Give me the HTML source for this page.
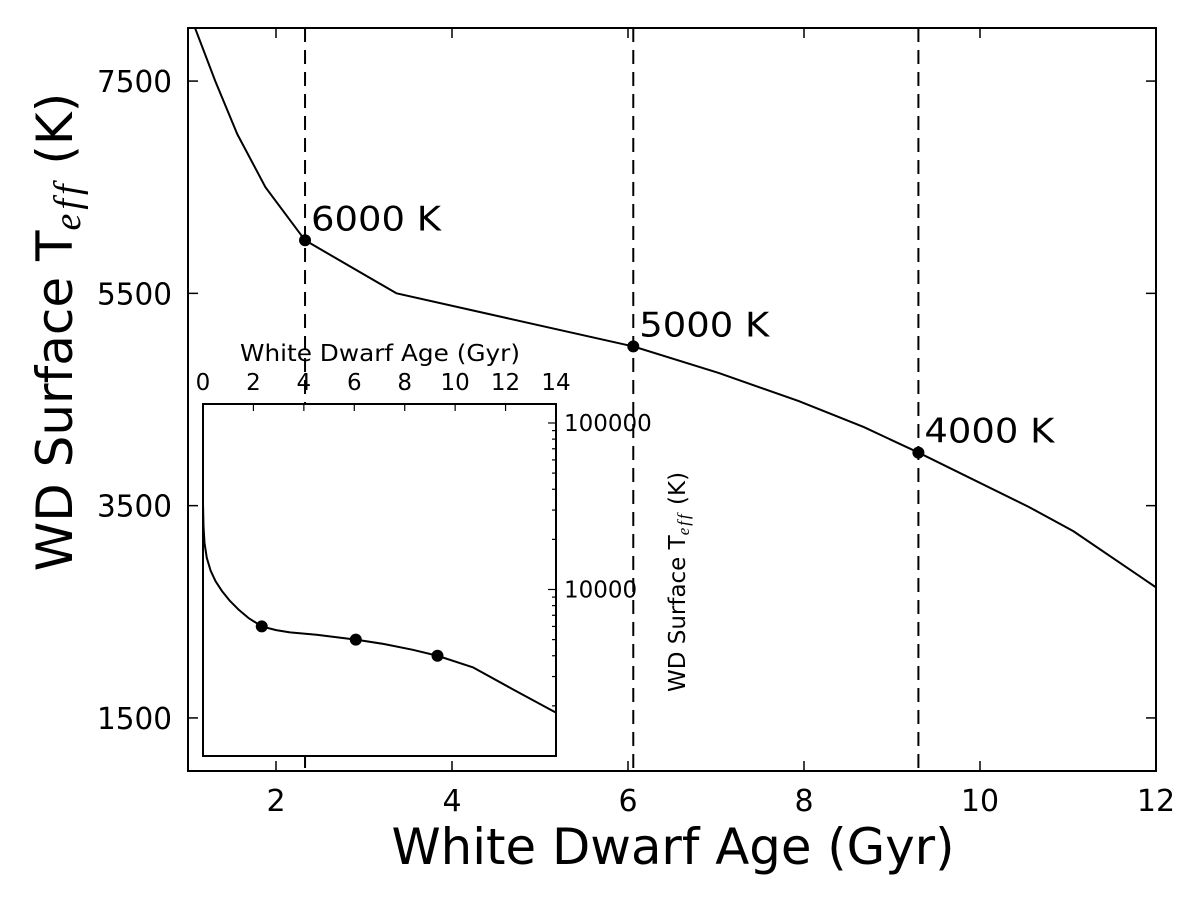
<!DOCTYPE html>
<html><head><meta charset="utf-8"><style>
body{margin:0;background:#fff;}
svg text{font-family:"DejaVu Sans","Liberation Sans",sans-serif;fill:#000;}
</style></head><body>
<svg id="chart" width="1200" height="900" xmlns="http://www.w3.org/2000/svg"></svg>
<script>
// main chart data
const mainAges = [1.08, 1.31, 1.56, 1.88, 2.33, 3.37, 6.06, 7.03, 7.94, 8.68, 9.3, 10.55, 11.06, 12.0];
const mainTeff = [8000, 7500, 7000, 6500, 6000, 5500, 5000, 4750, 4485, 4240, 4000, 3490, 3260, 2730];
const markAges = [2.33, 6.06, 9.3];
const markTeff = [6000, 5000, 4000];
const markLabels = ["6000 K", "5000 K", "4000 K"];
const xTicks = [2, 4, 6, 8, 10, 12];
const yTicks = [1500, 3500, 5500, 7500];
// inset data
const insetAges = [0, 0.02, 0.06, 0.15, 0.3, 0.5, 0.75, 1.05, 1.4, 1.8, 2.33, 2.9, 3.45, 4.5, 6.06, 7.2, 8.3, 9.3, 10.7, 12.3, 13.97];
const insetTeff = [33000, 24000, 19000, 15500, 13000, 11200, 9800, 8600, 7600, 6750, 6000, 5700, 5530, 5350, 5000, 4700, 4350, 4000, 3410, 2510, 1830];
const insetXTicks = [0, 2, 4, 6, 8, 10, 12, 14];
const insetYTicks = [10000, 100000];

const svg = document.getElementById('chart');
const NS = 'http://www.w3.org/2000/svg';
function mk(tag, attrs, parent) {
  const e = document.createElementNS(NS, tag);
  for (const k in attrs) e.setAttribute(k, attrs[k]);
  (parent || svg).appendChild(e);
  return e;
}
const L = 188, R = 1156, T = 28, B = 771;
const X = v => L + (v - 1) / 11 * (R - L);
const Y = v => B - (v - 1000) / 7000 * (B - T);

markAges.forEach(a => {
  const d = mk('line', {x1: X(a), x2: X(a), y1: T, y2: B, stroke: '#000', 'stroke-width': 2, 'stroke-dasharray': '14,8'});
  
  
});

const mc = mk('polyline', {points: mainAges.map((a, i) => X(a) + ',' + Y(mainTeff[i])).join(' '), fill: 'none', stroke: '#000', 'stroke-width': 2});



markAges.forEach((a, i) => {
  const c = mk('circle', {cx: X(a), cy: Y(markTeff[i]), r: 6, fill: '#000'});
  
  
  const t = mk('text', {x: X(a) + 6, y: Y(markTeff[i]) - 10, 'font-size': 34, textLength: 130, lengthAdjust: 'spacingAndGlyphs'});
  t.textContent = markLabels[i];
  
  
});

xTicks.forEach(v => {
  mk('line', {x1: X(v), x2: X(v), y1: B, y2: B - 10, stroke: '#000', 'stroke-width': 1.5});
  mk('line', {x1: X(v), x2: X(v), y1: T, y2: T + 10, stroke: '#000', 'stroke-width': 1.5});
  const t = mk('text', {x: X(v), y: B + 40, 'font-size': 30, 'text-anchor': 'middle'});
  t.textContent = v;
  
  
});
yTicks.forEach(v => {
  mk('line', {x1: L, x2: L + 10, y1: Y(v), y2: Y(v), stroke: '#000', 'stroke-width': 1.5});
  mk('line', {x1: R, x2: R - 10, y1: Y(v), y2: Y(v), stroke: '#000', 'stroke-width': 1.5});
  const t = mk('text', {x: L - 16, y: Y(v) + 11, 'font-size': 30, 'text-anchor': 'end', textLength: 75, lengthAdjust: 'spacingAndGlyphs'});
  t.textContent = v;
  
  
});
const frame = mk('rect', {x: L, y: T, width: R - L, height: B - T, fill: 'none', stroke: '#000', 'stroke-width': 2});



const xl = mk('text', {x: 673, y: 864, 'font-size': 50, 'text-anchor': 'middle', textLength: 563, lengthAdjust: 'spacingAndGlyphs'});
xl.textContent = 'White Dwarf Age (Gyr)';


const yl = mk('text', {x: 0, y: 0, 'font-size': 50, 'text-anchor': 'middle', transform: 'translate(72,332) rotate(-90)'});
yl.innerHTML = 'WD Surface T<tspan font-style="italic" font-family="Liberation Serif,serif" font-size="38" dy="8" letter-spacing="4">eff</tspan><tspan dy="-8"> (K)</tspan>';



// inset
const iL = 203, iR = 556, iT = 404, iB = 756;
const lmin = 3, lmax = 5.114;
const IX = v => iL + v / 14 * (iR - iL);
const IY = v => iB - (Math.log10(v) - lmin) / (lmax - lmin) * (iB - iT);
const ig = mk('g', {});


mk('rect', {x: iL, y: iT, width: iR - iL, height: iB - iT, fill: '#fff', stroke: 'none'}, ig);
const ic = mk('polyline', {points: insetAges.map((a, i) => IX(a) + ',' + IY(insetTeff[i])).join(' '), fill: 'none', stroke: '#000', 'stroke-width': 2, 'stroke-linejoin': 'round'}, ig);


markAges.forEach((a, i) => {
  const c = mk('circle', {cx: IX(a), cy: IY(markTeff[i]), r: 6, fill: '#000'}, ig);
  
  
});
insetXTicks.forEach(v => {
  mk('line', {x1: IX(v), x2: IX(v), y1: iT, y2: iT + 7, stroke: '#000', 'stroke-width': 1.2}, ig);
  const t = mk('text', {x: IX(v), y: iT - 14, 'font-size': 23, 'text-anchor': 'middle'}, ig);
  t.textContent = v;
  
  
});
for (let d = 3; d <= 5; d++) for (let m = 1; m <= 9; m++) {
  const v = m * Math.pow(10, d);
  if (v > 130000) continue;
  mk('line', {x1: iR, x2: iR - (m === 1 ? 8 : 4), y1: IY(v), y2: IY(v), stroke: '#000', 'stroke-width': 1.2}, ig);
}
insetYTicks.forEach(v => {
  const t = mk('text', {x: iR + 8, y: IY(v) + 8, 'font-size': 23}, ig);
  t.textContent = v;
  
  
});
mk('rect', {x: iL, y: iT, width: iR - iL, height: iB - iT, fill: 'none', stroke: '#000', 'stroke-width': 2}, ig);
const ixl = mk('text', {x: 380, y: 361, 'font-size': 23, 'text-anchor': 'middle', textLength: 280, lengthAdjust: 'spacingAndGlyphs'}, ig);
ixl.textContent = 'White Dwarf Age (Gyr)';


const iyl = mk('text', {x: 0, y: 0, 'font-size': 23, 'text-anchor': 'middle', transform: 'translate(685,582) rotate(-90)'}, ig);
iyl.innerHTML = 'WD Surface T<tspan font-style="italic" font-family="Liberation Serif,serif" font-size="17" dy="4" letter-spacing="2">eff</tspan><tspan dy="-4"> (K)</tspan>';


</script>
</body></html>
